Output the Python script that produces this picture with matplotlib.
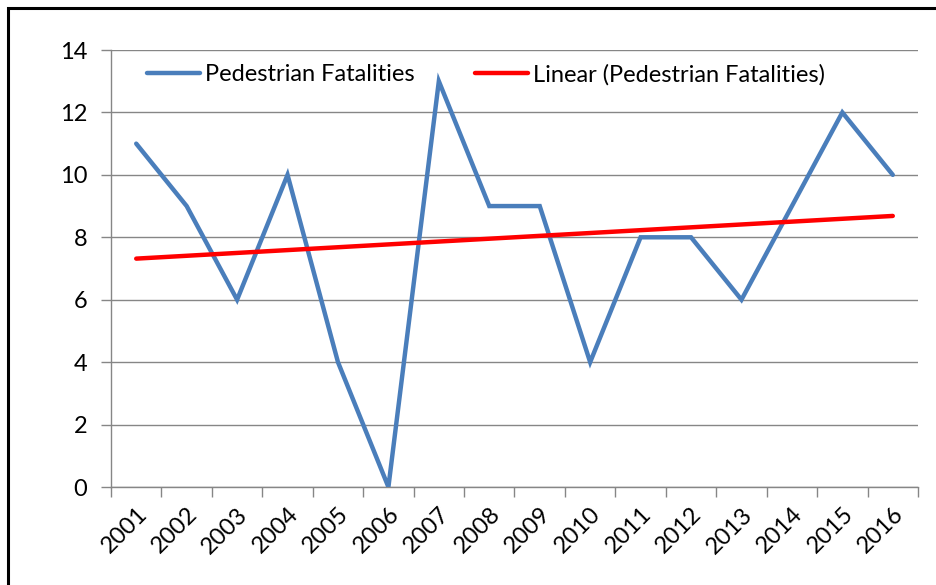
import matplotlib
matplotlib.use("Agg")
import matplotlib.pyplot as plt
import numpy as np

plt.rcParams['font.family'] = ['Lato', 'DejaVu Sans']

years = ['2001', '2002', '2003', '2004', '2005', '2006', '2007', '2008',
         '2009', '2010', '2011', '2012', '2013', '2014', '2015', '2016']
fatalities = [11, 9, 6, 10, 4, 0, 13, 9, 9, 4, 8, 8, 6, 9, 12, 10]

x = np.arange(len(years))
coef = np.polyfit(x, fatalities, 1)
trend = np.polyval(coef, x)

FS = 17

fig = plt.figure(figsize=(9.37, 5.85), dpi=100)
ax = fig.add_axes([111 / 937, 1 - 487 / 585, (918 - 111) / 937, (487 - 50) / 585])

ax.plot(x, fatalities, color='#4A7EBB', lw=3.2, solid_capstyle='round',
        solid_joinstyle='miter', label='Pedestrian Fatalities', zorder=3)
ax.plot(x, trend, color='#FF0000', lw=3.2, solid_capstyle='round',
        label='Linear (Pedestrian Fatalities)', zorder=4)

ax.set_xlim(-0.5, len(years) - 0.5)
ax.set_ylim(0, 14)
ax.set_yticks(np.arange(0, 15, 2))
ax.set_xticks(np.arange(-0.5, len(years), 1), minor=False)
ax.set_xticklabels([''] * (len(years) + 1))
ax.set_xticks(x, minor=True)
ax.set_xticklabels(years, minor=True, rotation=45, ha='right', va='top',
                   rotation_mode='anchor', fontsize=FS)
ax.tick_params(axis='x', which='minor', length=0, pad=12)
ax.tick_params(axis='x', which='major', length=7, color='#868686', width=1)
ax.tick_params(axis='y', length=7, color='#868686', width=1, labelsize=FS, pad=10)

ax.yaxis.grid(True, color='#868686', lw=1)
ax.set_axisbelow(True)
for s in ['top', 'right']:
    ax.spines[s].set_visible(False)
for s in ['left', 'bottom']:
    ax.spines[s].set_color('#868686')
    ax.spines[s].set_linewidth(1)

leg = ax.legend(loc='upper left', bbox_to_anchor=(0.033, 0.99), borderaxespad=0,
                ncol=2, frameon=False, fontsize=FS, handlelength=2.25,
                handletextpad=0.2, columnspacing=2.55)

# outer frame around the chart area
fig.patches.append(plt.Rectangle((8 / 937, -0.1), 1.2, 1 - 8 / 585 + 0.1,
                                 transform=fig.transFigure, fill=False,
                                 edgecolor='black', lw=2.2))

fig.savefig('out.png', dpi=100)
